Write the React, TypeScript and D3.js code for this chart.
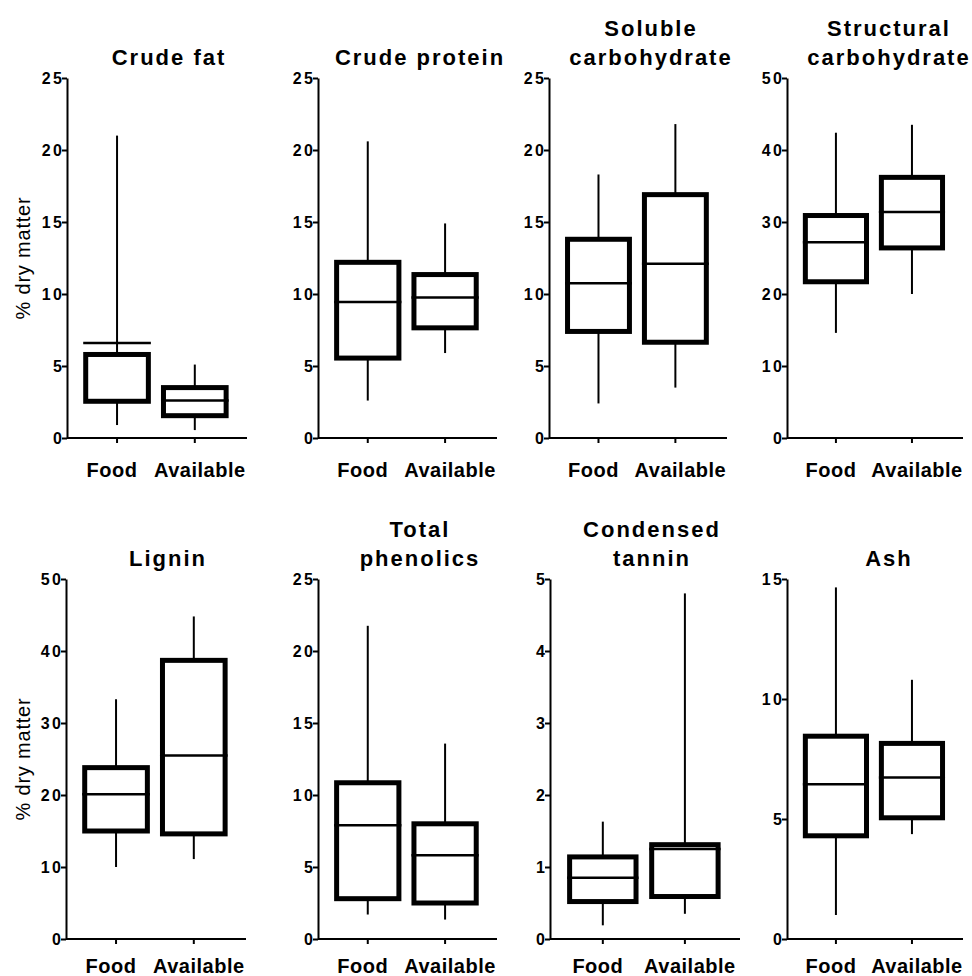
import React, { useEffect, useRef } from "react";
import * as d3 from "d3";

// panel titles (already split into lines) and groups
const titles = [
  ["Crude fat"],
  ["Crude protein"],
  ["Soluble", "carbohydrate"],
  ["Structural", "carbohydrate"],
  ["Lignin"],
  ["Total", "phenolics"],
  ["Condensed", "tannin"],
  ["Ash"],
];
const groups = ["Food", "Available"];

// y axis extents and tick steps per panel
const yMax = [25, 25, 25, 50, 50, 25, 5, 15];
const yStep = [5, 5, 5, 10, 10, 5, 1, 5];

// Food: min, q1, median, q3, max per panel
const foodMin = [0.9, 2.6, 2.4, 14.6, 10.0, 1.7, 0.19, 1.0];
const foodQ1 = [2.55, 5.55, 7.4, 21.7, 15.0, 2.8, 0.52, 4.3];
const foodMed = [6.6, 9.45, 10.75, 27.2, 20.1, 7.9, 0.85, 6.45];
const foodQ3 = [5.8, 12.2, 13.8, 30.9, 23.8, 10.85, 1.14, 8.45];
const foodMax = [21.0, 20.6, 18.3, 42.4, 33.3, 21.75, 1.63, 14.65];

// Available: min, q1, median, q3, max per panel
const availMin = [0.55, 5.9, 3.5, 20.0, 11.1, 1.35, 0.35, 4.37];
const availQ1 = [1.55, 7.65, 6.65, 26.4, 14.6, 2.5, 0.59, 5.05];
const availMed = [2.6, 9.75, 12.1, 31.4, 25.5, 5.82, 1.25, 6.73];
const availQ3 = [3.5, 11.35, 16.9, 36.2, 38.7, 8.0, 1.31, 8.15];
const availMax = [5.1, 14.9, 21.8, 43.5, 44.8, 13.57, 4.8, 10.8];

const yLabel = "% dry matter";

// layout
const axisX = [
  [67, 318, 549, 787],
  [66, 318, 550, 787],
];
const axisLen = [180, 179, 178, 176, 180, 179, 190, 176];
const rowTop = [78, 579];
const labelOffset = [39, 34];
const plotH = 360;
const font = "'Liberation Sans', Arial, sans-serif";

export default function App() {
  const ref = useRef<SVGSVGElement>(null);

  useEffect(() => {
    const svg = d3.select(ref.current);
    svg.selectAll("*").remove();

    titles.forEach((lines, i) => {
      const row = Math.floor(i / 4);
      const col = i % 4;
      const x0 = axisX[row][col];
      const y0 = rowTop[row];
      const len = axisLen[i];

      const g = svg.append("g").attr("transform", `translate(${x0},${y0})`);

      const y = d3.scaleLinear().domain([0, yMax[i]]).range([plotH, 0]);
      const x = d3
        .scalePoint()
        .domain(groups)
        .range([len * 0.278, len * 0.71]);
      const step = x.step();
      const bw = step * 0.87 - 5;

      // y axis
      const yAxis = d3
        .axisLeft(y)
        .tickValues(d3.range(0, yMax[i] + yStep[i] / 2, yStep[i]))
        .tickSize(5)
        .tickSizeOuter(0)
        .tickPadding(-2.5)
        .tickFormat(d3.format("d"));
      const ya = g.append("g").call(yAxis);
      ya.select(".domain").attr("stroke-width", 2);
      ya.selectAll(".tick line").attr("stroke-width", 2);
      ya.selectAll(".tick text")
        .attr("font-family", font)
        .attr("font-size", 16)
        .attr("font-weight", "bold")
        .attr("letter-spacing", 2.5)
        .attr("fill", "#000");

      // x axis
      g.append("line")
        .attr("x1", 0)
        .attr("x2", len)
        .attr("y1", plotH)
        .attr("y2", plotH)
        .attr("stroke", "#000")
        .attr("stroke-width", 2);
      g.selectAll(".xtick")
        .data(groups)
        .enter()
        .append("line")
        .attr("class", "xtick")
        .attr("x1", (d) => x(d))
        .attr("x2", (d) => x(d))
        .attr("y1", plotH)
        .attr("y2", plotH + 5)
        .attr("stroke", "#000")
        .attr("stroke-width", 2);
      g.selectAll(".xlabel")
        .data(groups)
        .enter()
        .append("text")
        .attr("class", "xlabel")
        .attr("x", (d, j) => x(d) + (j === 0 ? -5 : 5))
        .attr("y", plotH + labelOffset[row])
        .attr("text-anchor", "middle")
        .attr("font-family", font)
        .attr("font-size", 20)
        .attr("font-weight", "bold")
        .attr("letter-spacing", 0.5)
        .text((d) => d);

      // boxes
      const stats = groups.map((gr, j) =>
        j === 0
          ? { gr, min: foodMin[i], q1: foodQ1[i], med: foodMed[i], q3: foodQ3[i], max: foodMax[i] }
          : { gr, min: availMin[i], q1: availQ1[i], med: availMed[i], q3: availQ3[i], max: availMax[i] }
      );

      stats.forEach((s) => {
        const cx = x(s.gr);
        g.append("line")
          .attr("x1", cx)
          .attr("x2", cx)
          .attr("y1", y(s.q3))
          .attr("y2", y(s.max))
          .attr("stroke", "#000")
          .attr("stroke-width", 2);
        g.append("line")
          .attr("x1", cx)
          .attr("x2", cx)
          .attr("y1", y(s.q1))
          .attr("y2", y(s.min))
          .attr("stroke", "#000")
          .attr("stroke-width", 2);
        g.append("rect")
          .attr("x", cx - bw / 2)
          .attr("y", y(s.q3))
          .attr("width", bw)
          .attr("height", y(s.q1) - y(s.q3))
          .attr("fill", "#fff")
          .attr("stroke", "#000")
          .attr("stroke-width", 5);
        g.append("line")
          .attr("x1", cx - (bw + 5) / 2)
          .attr("x2", cx + (bw + 5) / 2)
          .attr("y1", y(s.med))
          .attr("y2", y(s.med))
          .attr("stroke", "#000")
          .attr("stroke-width", 2.5);
      });

      // title
      const t = g
        .append("text")
        .attr("x", 102)
        .attr("text-anchor", "middle")
        .attr("font-family", font)
        .attr("font-size", 22)
        .attr("font-weight", "bold")
        .attr("letter-spacing", 2);
      lines.forEach((ln, k) => {
        t.append("tspan")
          .attr("x", 102)
          .attr("y", -13 - (lines.length - 1 - k) * 29.5)
          .text(ln);
      });

      // y label on first column
      if (col === 0) {
        svg
          .append("text")
          .attr("transform", `translate(30,${y0 + plotH / 2}) rotate(-90)`)
          .attr("text-anchor", "middle")
          .attr("font-family", font)
          .attr("font-size", 20)
          .attr("letter-spacing", 0.8)
          .text(yLabel);
      }
    });
  }, []);

  return (
    <svg
      ref={ref}
      width={972}
      height={976}
      style={{ position: "absolute", left: 0, top: 0, background: "#fff" }}
    />
  );
}
